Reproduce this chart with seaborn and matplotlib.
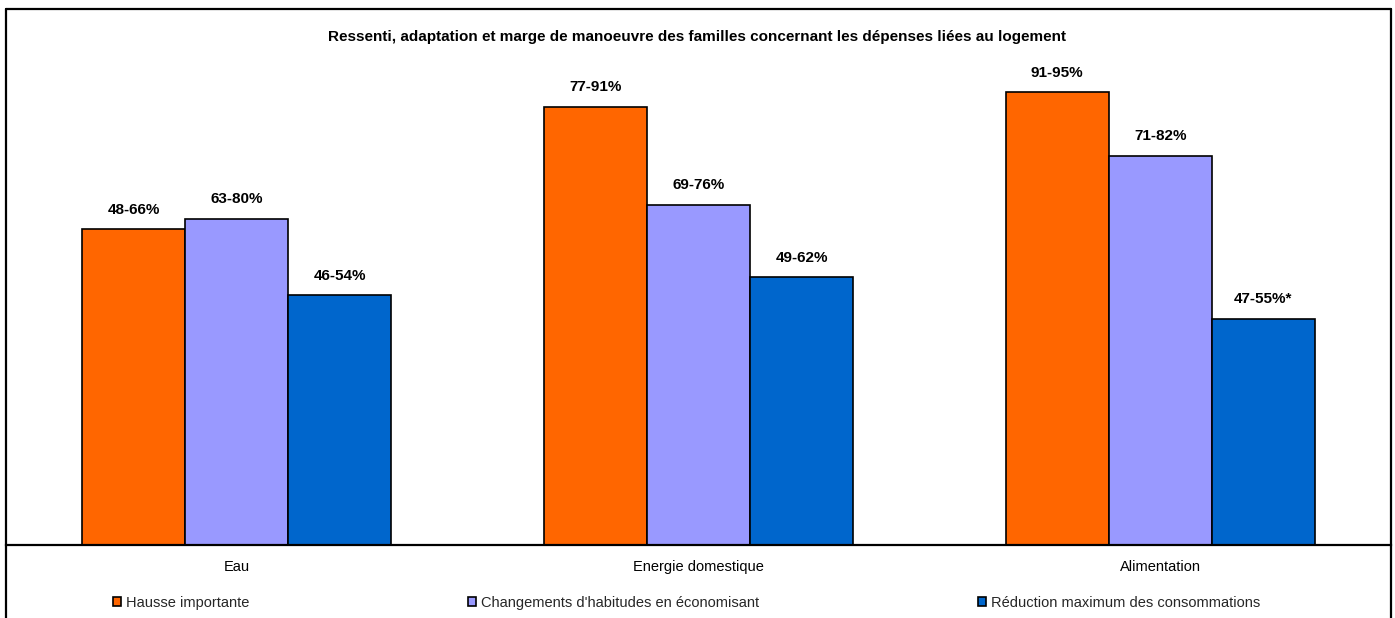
import matplotlib
matplotlib.use("Agg")
import matplotlib.pyplot as plt
from matplotlib.lines import Line2D
import seaborn as sns
import pandas as pd

categories = ["Eau", "Energie domestique", "Alimentation"]
series = ["Hausse importante", "Changements d'habitudes en économisant",
          "Réduction maximum des consommations"]
hausse = [63.8, 88.5, 91.5]
changements = [65.9, 68.7, 78.6]
reduction = [50.5, 54.1, 45.7]
labels_hausse = ["48-66%", "77-91%", "91-95%"]
labels_changements = ["63-80%", "69-76%", "71-82%"]
labels_reduction = ["46-54%", "49-62%", "47-55%*"]
colors = ["#FF6600", "#9999FF", "#0066CC"]
title = "Ressenti, adaptation et marge de manoeuvre des familles concernant les dépenses liées au logement"

sns.set_theme(style="white")
plt.rcParams["font.family"] = ["Liberation Sans", "DejaVu Sans"]

rows = []
for s, vals in zip(series, [hausse, changements, reduction]):
    for c, v in zip(categories, vals):
        rows.append({"cat": c, "series": s, "val": v})
df = pd.DataFrame(rows)

fig = plt.figure(figsize=(13.95, 6.18), dpi=100)
ax = fig.add_axes([6/1395, 1 - 545/618, (1391-6)/1395, (545-50)/618])

sns.barplot(data=df, x="cat", y="val", hue="series", hue_order=series,
            order=categories, palette=colors, width=0.67, edgecolor="black",
            linewidth=1.2, saturation=1, ax=ax, legend=True)

ax.set_ylim(0, 100)
ax.set_xlim(-0.5, 2.5)
ax.set_xlabel("")
ax.set_ylabel("")
ax.set_yticks([])
for sp in ["left", "right", "top"]:
    ax.spines[sp].set_visible(False)
ax.spines["bottom"].set_color("black")
ax.spines["bottom"].set_linewidth(1.6)

ax.set_xticks([0, 1, 2])
ax.set_xticklabels(categories, fontsize=10.5, color="black")
ax.tick_params(axis="x", which="major", length=0, pad=10.5)
ax.set_xticks([-0.5, 0.5, 1.5, 2.5], minor=True)
ax.tick_params(axis="x", which="minor", length=4, width=1.5, color="black", direction="out")

all_labels = [labels_hausse, labels_changements, labels_reduction]
for cont, labs in zip(ax.containers, all_labels):
    ax.bar_label(cont, labels=labs, padding=9, fontsize=11, fontweight="bold", color="black")

h, l = ax.get_legend_handles_labels()
ax.get_legend().remove()
fig.legend(h, l, ncol=3, loc="center left", bbox_to_anchor=(113/1395, 15/618),
           frameon=False, fontsize=10.5, handlelength=0.55, handleheight=0.55,
           handletextpad=0.35, columnspacing=15.0, borderaxespad=0, borderpad=0)

fig.text(0.5, 1 - 37/618, title, ha="center", va="center", fontsize=11,
         fontweight="bold", color="black")

# figure border (left, top, right)
x0, x1, yt = 6/1395, 1391/1395, 1 - 9/618
fig.add_artist(Line2D([x0, x0], [0, yt], transform=fig.transFigure, color="black", lw=1.6))
fig.add_artist(Line2D([x0, x1], [yt, yt], transform=fig.transFigure, color="black", lw=1.6))
fig.add_artist(Line2D([x1, x1], [0, yt], transform=fig.transFigure, color="black", lw=1.6))

fig.savefig("out.png", dpi=100, facecolor="white")
